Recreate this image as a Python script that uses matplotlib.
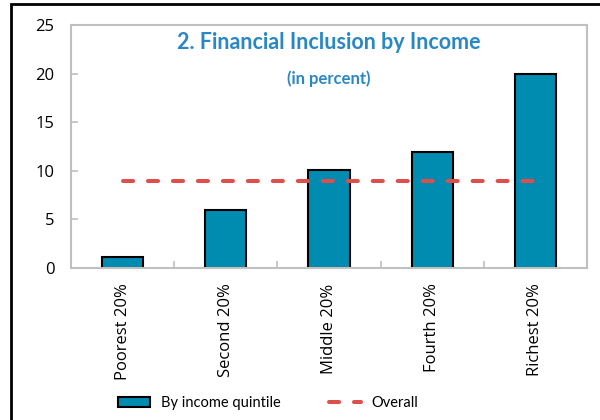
import matplotlib
matplotlib.use("Agg")
import matplotlib.pyplot as plt
from matplotlib.patches import Rectangle, Patch
from matplotlib.lines import Line2D

# data
categories = ["Poorest 20%", "Second 20%", "Middle 20%", "Fourth 20%", "Richest 20%"]
by_quintile = [1.1, 6.0, 10.1, 11.9, 20.0]
overall = [8.9, 8.9, 8.9, 8.9, 8.9]
yticks = [0, 5, 10, 15, 20, 25]

bar_color = "#008BB0"
line_color = "#DE4F4B"
title_color = "#2A87C6"
spine_color = "#C0C0C0"
narrow = ["Lato", "DejaVu Sans"]

plt.rcParams["font.family"] = ["Open Sans", "DejaVu Sans"]

fig = plt.figure(figsize=(6, 4.2), dpi=100)
ax = fig.add_axes([71 / 600, 1 - 268 / 420, (587 - 71) / 600, (268 - 25) / 420])

x = list(range(len(categories)))
ax.bar(x, by_quintile, width=0.4, color=bar_color, edgecolor="black", linewidth=1.5, zorder=2)
ax.plot(x, overall, color=line_color, linewidth=2.9, dashes=(2.5, 3.7),
        dash_capstyle="round", zorder=3)

ax.set_xlim(-0.5, len(categories) - 0.5)
ax.set_ylim(0, 25)
ax.set_yticks(yticks)
ax.set_yticklabels([str(v) for v in yticks], fontsize=12)
ax.set_xticks(x)
ax.set_xticklabels(categories, rotation=90, fontsize=12)
ax.set_xticks([i + 0.5 for i in x[:-1]], minor=True)
ax.tick_params(axis="x", which="major", length=0, pad=11)
ax.tick_params(axis="x", which="minor", direction="in", length=5, color=spine_color, width=1.2)
ax.tick_params(axis="y", direction="in", length=5, color=spine_color, width=1.2, pad=12)
for s in ax.spines.values():
    s.set_color(spine_color)
    s.set_linewidth(1.5)

ax.text(0.5, 0.93, "2. Financial Inclusion by Income", transform=ax.transAxes,
        ha="center", va="center", fontsize=15.5, fontweight="bold", color=title_color,
        family=narrow)
ax.text(0.5, 0.78, "(in percent)", transform=ax.transAxes,
        ha="center", va="center", fontsize=12, fontweight="bold", color=title_color,
        family=narrow)

handles = [
    Patch(facecolor=bar_color, edgecolor="black", linewidth=1.5, label="By income quintile"),
    Line2D([0], [0], color=line_color, linewidth=2.9, dashes=(2.5, 3.7),
           dash_capstyle="round", label="Overall"),
]
fig.legend(handles=handles, loc="center", bbox_to_anchor=(0.447, 0.04), ncol=2,
           frameon=False, columnspacing=3.3, handlelength=2.2, handletextpad=0.75,
           prop={"family": narrow, "size": 10.5})

# outer frame around the figure
fig.patches.append(Rectangle((11 / 600, -0.05), 1.0, 1 - 4 / 420 + 0.05,
                             transform=fig.transFigure, fill=False,
                             edgecolor="black", linewidth=2))

fig.savefig("out.png", dpi=100)
